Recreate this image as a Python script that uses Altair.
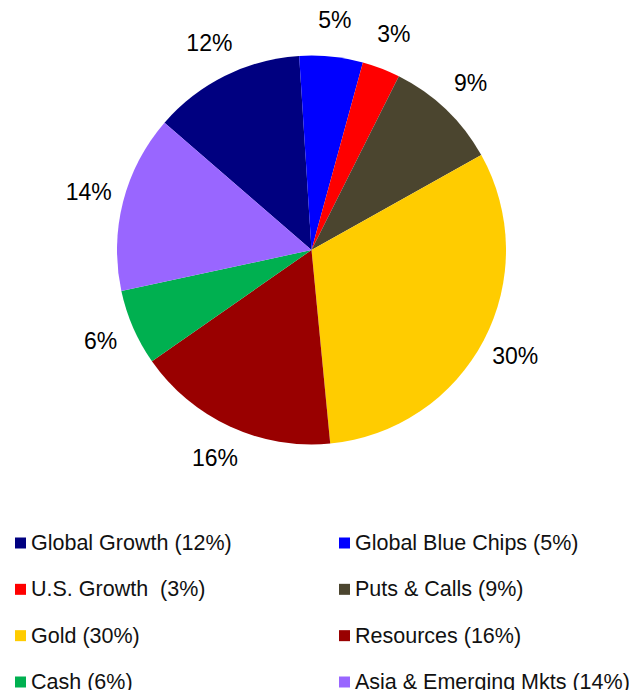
import altair as alt
import pandas as pd
import math

categories = ["Global Growth", "Global Blue Chips", "U.S. Growth", "Puts & Calls",
              "Gold", "Resources", "Cash", "Asia & Emerging Mkts"]
values = [12, 5, 3, 9, 30, 16, 6, 14]
legend_labels = ["Global Growth (12%)", "Global Blue Chips (5%)", "U.S. Growth\u00a0 (3%)",
                 "Puts & Calls (9%)", "Gold (30%)", "Resources (16%)", "Cash (6%)",
                 "Asia & Emerging Mkts (14%)"]
colors = ["#000080", "#0000FF", "#FF0000", "#4B452F", "#FFCC00", "#990000", "#00B050", "#9966FF"]

df = pd.DataFrame({
    "cat": categories,
    "val": values,
    "idx": list(range(len(categories))),
    "label": [f"{v}%" for v in values],
    "legend": legend_labels,
})
df["col"] = df["idx"] % 2
df["row"] = df["idx"] // 2

FONT = "Liberation Sans"
start = math.radians(310.9)
theta_scale = alt.Scale(range=[start, start + 2 * math.pi])
color_scale = alt.Scale(domain=categories, range=colors)

cx, cy = 303.5, 242

base = alt.Chart(df)

pie = base.mark_arc(radius=194.5, stroke=None).encode(
    theta=alt.Theta("val:Q", stack=True, scale=theta_scale),
    order=alt.Order("idx:Q"),
    color=alt.Color("cat:N", scale=color_scale, legend=None),
    x=alt.value(cx), y=alt.value(cy),
)

labels = base.mark_text(radius=230, font=FONT, fontSize=23, color="black",
                        align="center", baseline="middle").encode(
    theta=alt.Theta("val:Q", stack=True, scale=theta_scale),
    order=alt.Order("idx:Q"),
    text="label:N",
    x=alt.value(cx), y=alt.value(cy),
)

lx = alt.X("col:Q", scale=alt.Scale(domain=[0, 1], range=[12.5, 336.5]), axis=None)
ly = alt.Y("row:Q", scale=alt.Scale(domain=[0, 3], range=[535, 674]), axis=None)

leg_sym = base.mark_square(size=121, opacity=1).encode(
    x=lx, y=ly,
    color=alt.Color("cat:N", scale=color_scale, legend=None),
)
leg_txt = base.mark_text(font=FONT, fontSize=21.5, color="#111111", align="left",
                         baseline="middle", dx=10.5, dy=1).encode(
    x=lx, y=ly, text="legend:N",
)

chart = alt.layer(pie, labels, leg_sym, leg_txt).properties(
    width=621, height=682,
    autosize=alt.AutoSizeParams(type="none"),
    padding=0,
).configure_view(stroke=None)

chart.save("out.html", embed_options={"renderer": "svg", "actions": False})
